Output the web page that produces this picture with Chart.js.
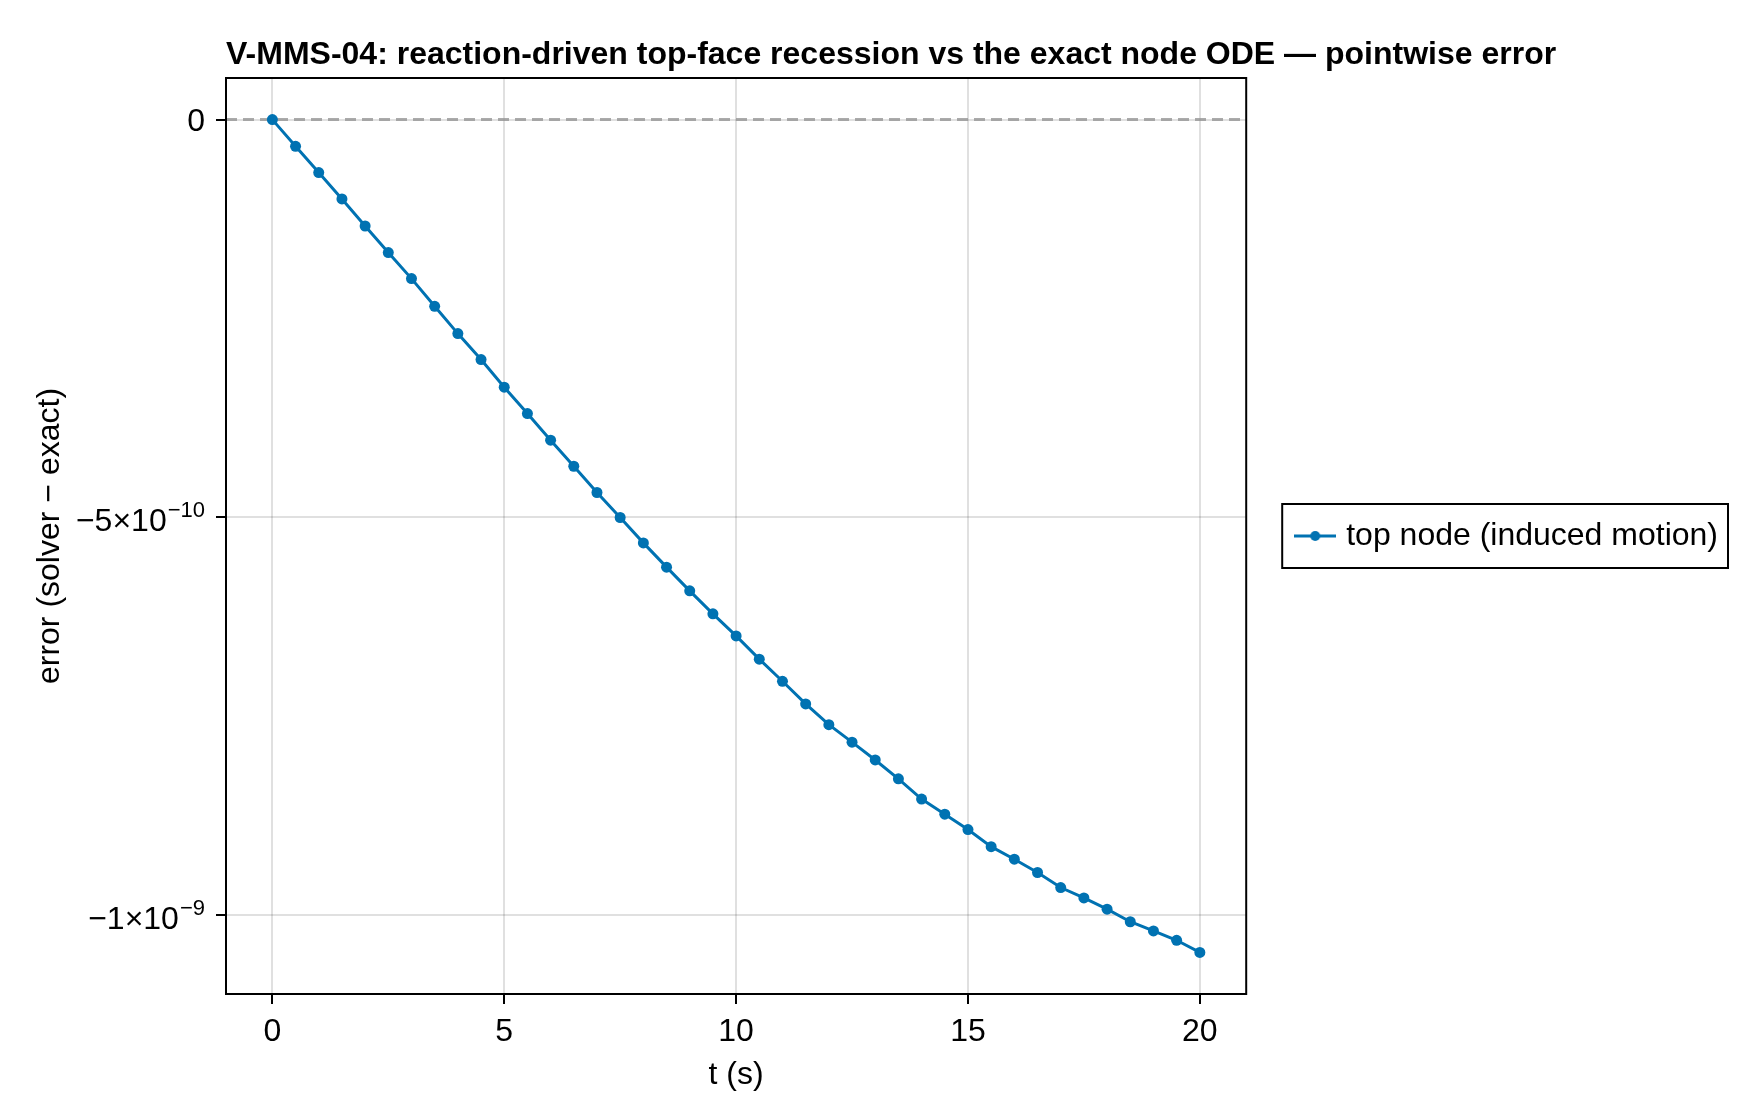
<!DOCTYPE html>
<html>
<head>
<meta charset="utf-8">
<script src="https://cdn.jsdelivr.net/npm/chart.js@4.4.1/dist/chart.umd.min.js"></script>
<style>
  html, body { margin: 0; padding: 0; background: #fff; }
  #wrap { width: 1760px; height: 1120px; }
</style>
</head>
<body>
<div id="wrap"><canvas id="err_chart" width="1760" height="1120"></canvas></div>
<script>
// time samples (s)
const tValues = [0, 0.5, 1, 1.5, 2, 2.5, 3, 3.5, 4, 4.5, 5, 5.5, 6, 6.5, 7, 7.5, 8, 8.5, 9, 9.5,
                 10, 10.5, 11, 11.5, 12, 12.5, 13, 13.5, 14, 14.5, 15, 15.5, 16, 16.5, 17, 17.5,
                 18, 18.5, 19, 19.5, 20];
// top node error, solver - exact
const errValues = [0, -3.35e-11, -6.66e-11, -9.97e-11, -1.337e-10, -1.671e-10, -1.998e-10, -2.346e-10,
                   -2.689e-10, -3.015e-10, -3.363e-10, -3.694e-10, -4.029e-10, -4.356e-10, -4.686e-10,
                   -5.0e-10, -5.319e-10, -5.624e-10, -5.922e-10, -6.211e-10, -6.488e-10, -6.780e-10,
                   -7.058e-10, -7.343e-10, -7.603e-10, -7.823e-10, -8.047e-10, -8.284e-10, -8.539e-10,
                   -8.728e-10, -8.921e-10, -9.136e-10, -9.294e-10, -9.461e-10, -9.650e-10, -9.781e-10,
                   -9.922e-10, -1.0080e-9, -1.0195e-9, -1.0313e-9, -1.0465e-9];
// zero reference line
const zeroLineX = [-1, 21];
const zeroLineY = [0, 0];

const xTickValues = [0, 5, 10, 15, 20];
const xTickLabels = ['0', '5', '10', '15', '20'];
const yTickValues = [-1e-9, -5e-10, 0];
const yTickBase = ['−1×10', '−5×10', '0'];
const yTickExp = ['−9', '−10', ''];

const titleText = 'V-MMS-04: reaction-driven top-face recession vs the exact node ODE — pointwise error';
const seriesLabel = 'top node (induced motion)';

const BLUE = '#0072B2';
const FONT = '"Liberation Sans", Arial, Helvetica, sans-serif';

// legend marker: short line with a dot
function legendSymbol() {
    let c = document.createElement('canvas');
    c.width = 42; c.height = 14;
    let g = c.getContext('2d');
    g.strokeStyle = BLUE; g.lineWidth = 3;
    g.beginPath(); g.moveTo(0, 7); g.lineTo(42, 7); g.stroke();
    g.fillStyle = BLUE;
    g.beginPath(); g.arc(21, 7, 5, 0, Math.PI * 2); g.fill();
    return c;
}

/*** frame, left-aligned title, y tick labels with exponents, legend box ***/
const decorPlugin = {
    id: 'decor',
    afterDraw(chart) {
        const ctx = chart.ctx;
        const a = chart.chartArea;
        ctx.save();
        ctx.strokeStyle = '#000';
        ctx.lineWidth = 2;
        ctx.strokeRect(a.left, a.top, a.right - a.left, a.bottom - a.top);

        ctx.fillStyle = '#000';
        ctx.font = 'bold 32px ' + FONT;
        ctx.textBaseline = 'middle';
        ctx.textAlign = 'left';
        ctx.fillText(titleText, a.left, 55);

        // y tick labels: mantissa plus raised exponent
        const ys = chart.scales.y;
        const xr = ys.right - 21;
        ctx.textBaseline = 'alphabetic';
        yTickValues.forEach((v, i) => {
            const py = ys.getPixelForValue(v);
            let supW = 0;
            if (yTickExp[i]) {
                ctx.font = '22px ' + FONT;
                supW = ctx.measureText(yTickExp[i]).width;
                ctx.textAlign = 'left';
                ctx.fillText(yTickExp[i], xr - supW, py);
                ctx.font = '32px ' + FONT;
                ctx.textAlign = 'right';
                ctx.fillText(yTickBase[i], xr - supW - 1, py + 13.5);
            } else {
                ctx.font = '32px ' + FONT;
                ctx.textAlign = 'right';
                ctx.fillText(yTickBase[i], xr, py + 11.5);
            }
        });

        const hb = chart.legend.legendHitBoxes[0];
        if (hb) {
            ctx.lineWidth = 2;
            ctx.strokeRect(hb.left - 18, hb.top - 16, hb.width + 28, hb.height + 32);
        }
        ctx.restore();
    }
};

const ctx = document.getElementById('err_chart').getContext('2d');

new Chart(ctx, {
    type: 'line',
    data: {
        datasets: [{
            label: seriesLabel,
            data: tValues.map((t, i) => ({x: t, y: errValues[i]})),
            borderColor: BLUE,
            backgroundColor: BLUE,
            borderWidth: 3,
            pointRadius: 5.5,
            pointBorderWidth: 0,
            pointStyle: 'circle',
            tension: 0,
            order: 1
        }, {
            label: 'zero',
            data: zeroLineX.map((x, i) => ({x: x, y: zeroLineY[i]})),
            borderColor: 'rgba(150,150,150,0.8)',
            borderWidth: 3,
            borderDash: [11, 6],
            pointRadius: 0,
            order: 2
        }]
    },
    options: {
        responsive: false,
        animation: false,
        devicePixelRatio: 1,
        layout: {
            padding: {top: 78, left: 0, right: 32, bottom: 0}
        },
        plugins: {
            title: {display: false},
            tooltip: {enabled: false},
            legend: {
                position: 'right',
                fullSize: false,
                maxWidth: 600,
                labels: {
                    font: {family: FONT, size: 32},
                    color: '#000',
                    padding: 54,
                    usePointStyle: true,
                    pointStyle: legendSymbol(),
                    pointStyleWidth: 30,
                    filter: item => item.text === seriesLabel
                }
            }
        },
        scales: {
            x: {
                type: 'linear',
                min: -1,
                max: 21,
                afterBuildTicks: s => { s.ticks = xTickValues.map(v => ({value: v})); },
                afterFit: s => { s.height = 126; },
                ticks: {
                    font: {family: FONT, size: 32},
                    color: '#000',
                    padding: 9,
                    maxRotation: 0,
                    callback: v => xTickLabels[xTickValues.indexOf(v)]
                },
                grid: {
                    color: 'rgba(0,0,0,0.12)',
                    lineWidth: 2,
                    tickColor: '#000',
                    tickLength: 10,
                    tickWidth: 2
                },
                border: {display: true, color: '#000', width: 2},
                title: {
                    display: true,
                    text: 't (s)',
                    font: {family: FONT, size: 32},
                    color: '#000',
                    padding: {top: 0, bottom: 26}
                }
            },
            y: {
                type: 'linear',
                min: -1.0988e-9,
                max: 0.0523e-9,
                afterBuildTicks: s => { s.ticks = yTickValues.map(v => ({value: v})); },
                afterFit: s => { s.width = 226; },
                ticks: {display: false},
                grid: {
                    color: 'rgba(0,0,0,0.12)',
                    lineWidth: 2,
                    tickColor: '#000',
                    tickLength: 10,
                    tickWidth: 2
                },
                border: {display: true, color: '#000', width: 2},
                title: {
                    display: true,
                    text: 'error (solver − exact)',
                    font: {family: FONT, size: 32},
                    color: '#000',
                    padding: {top: 31, bottom: 0}
                }
            }
        }
    },
    plugins: [decorPlugin]
});
</script>
</body>
</html>
